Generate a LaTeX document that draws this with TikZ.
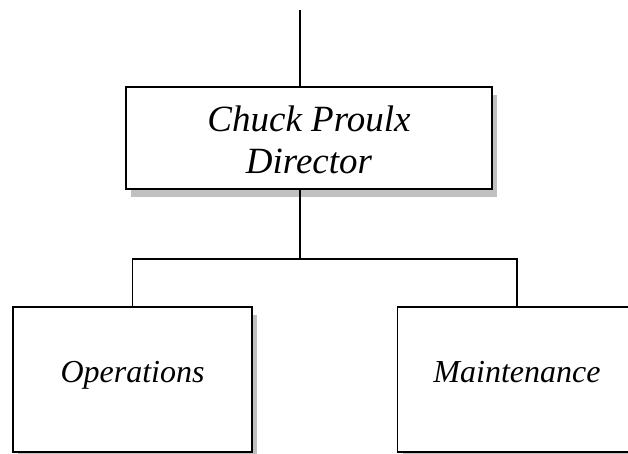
\documentclass[tikz,border=0pt]{standalone}
\usepackage{fontspec}
\setmainfont{Liberation Serif}
\begin{document}
\begin{tikzpicture}[x=1pt,y=-1pt,
  orgbox/.style={draw=black, line width=1.5pt, fill=white, rectangle, inner sep=0pt,
    preaction={fill=shadowgray, transform canvas={shift={(5pt,-8pt)}}}},
  unitbox/.style={orgbox, minimum width=239pt, minimum height=145pt,
    text height=20pt, text depth=15pt, font=\fontsize{32}{36}\selectfont\itshape},
  link/.style={draw=black, line width=1.5pt}]
\definecolor{shadowgray}{RGB}{192,192,192}
\useasboundingbox (0,0) rectangle (628,453);
\clip (0,0) rectangle (628,453);
\fill[white] (0,0) rectangle (628,453);
\node[orgbox, minimum width=366pt, minimum height=102pt, align=center,
  font=\fontsize{37}{42}\selectfont\itshape] (chief) at (309,138)
  {\rule{0pt}{30pt}Chuck Proulx\\Director};
\node[unitbox] (ops) at (132.5,379.5) {Operations};
\node[unitbox] (maint) at (517,379.5) {Maintenance};
\coordinate (feed) at (300,10);
\coordinate (bus) at (300,259);
\draw[link] (feed) -- (feed |- chief.north);
\draw[link] (chief.south -| bus) -- (bus);
\draw[link] (ops.north) -- (ops.north |- bus) -| (maint.north);
\end{tikzpicture}
\end{document}
